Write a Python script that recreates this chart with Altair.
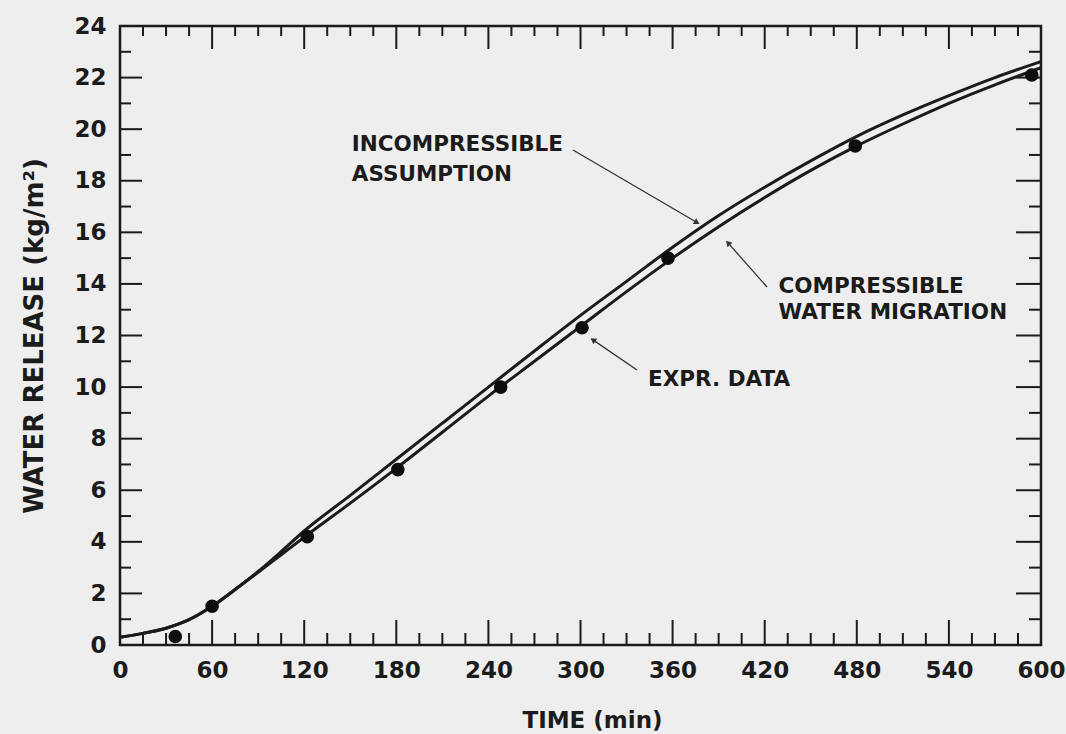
import math
import altair as alt
import pandas as pd

# Model curves: water release vs time
time_model = [0, 15, 30, 45, 60, 75, 90, 105, 120, 150, 180, 210, 240, 270,
              300, 330, 360, 390, 420, 450, 480, 510, 540, 570, 600]
incompressible = [0.30, 0.45, 0.65, 0.98, 1.50, 2.15, 2.85, 3.62, 4.42, 5.80,
                  7.20, 8.60, 10.00, 11.40, 12.78, 14.10, 15.42, 16.65, 17.75,
                  18.77, 19.72, 20.55, 21.30, 22.00, 22.62]
compressible = [0.30, 0.45, 0.65, 0.98, 1.50, 2.15, 2.82, 3.50, 4.18, 5.50,
                6.85, 8.25, 9.65, 11.00, 12.35, 13.70, 15.00, 16.22, 17.35,
                18.40, 19.35, 20.20, 21.00, 21.72, 22.38]

# Experimental data
expr_time = [36, 60, 122, 181, 248, 301, 357, 479, 594]
expr_release = [0.33, 1.50, 4.20, 6.80, 10.00, 12.30, 15.00, 19.35, 22.10]

# Axis ticks
x_labels = list(range(0, 601, 60))
x_minor = [t for t in range(0, 601, 15) if t % 60 != 0]
y_labels = list(range(0, 25, 2))
y_minor = list(range(1, 24, 2))

# Annotations (time, release, text)
note_t = [151, 151, 429, 429, 344]
note_v = [19.39, 18.22, 13.88, 12.87, 10.27]
note_text = ["INCOMPRESSIBLE", "ASSUMPTION", "COMPRESSIBLE",
             "WATER MIGRATION", "EXPR. DATA"]

# Leader arrows: tail (t1, v1) -> head (t2, v2)
arrow_t1 = [295.1, 421.5, 336.8]
arrow_v1 = [19.19, 13.88, 10.66]
arrow_t2 = [375.9, 396.1, 308.1]
arrow_v2 = [16.38, 15.59, 11.83]

W, H = 921, 619
INK = "#1b1b1b"
FONT = "DejaVu Sans"

xs = alt.Scale(domain=[0, 600], nice=False, zero=False)
ys = alt.Scale(domain=[0, 24], nice=False, zero=False)

curves = pd.DataFrame({
    "time": time_model * 2,
    "release": incompressible + compressible,
    "model": ["incompressible"] * len(time_model) + ["compressible"] * len(time_model),
})
expr = pd.DataFrame({"time": expr_time, "release": expr_release})
notes = pd.DataFrame({"time": note_t, "release": note_v, "label": note_text})

sx, sy = W / 600.0, H / 24.0
angles = []
for a, b, c, d in zip(arrow_t1, arrow_v1, arrow_t2, arrow_v2):
    dx = (c - a) * sx
    dy = -(d - b) * sy
    angles.append(math.degrees(math.atan2(dx, -dy)) % 360)
arrows = pd.DataFrame({"t1": arrow_t1, "v1": arrow_v1, "t2": arrow_t2,
                       "v2": arrow_v2, "ang": angles})

x_axis = alt.Axis(values=x_labels, ticks=False, domain=False, grid=False,
                  labelFlush=False,
                  labelFont=FONT, labelFontSize=23, labelFontWeight="bold",
                  labelColor=INK, labelPadding=14, title="TIME (min)",
                  titleFont=FONT, titleFontSize=23, titleFontWeight="bold",
                  titleColor=INK, titleX=472, titleY=75, titleBaseline="middle")
y_axis = alt.Axis(values=y_labels, ticks=False, domain=False, grid=False,
                  labelFlush=False,
                  labelFont=FONT, labelFontSize=23, labelFontWeight="bold",
                  labelColor=INK, labelPadding=14,
                  title="WATER RELEASE (kg/m²)", titleFont=FONT,
                  titleFontSize=26, titleFontWeight="bold", titleColor=INK,
                  titleX=-86, titleY=H / 2, titleBaseline="middle")

lines = alt.Chart(curves).mark_line(
    interpolate="monotone", strokeWidth=3, color=INK
).encode(
    x=alt.X("time:Q", scale=xs, axis=x_axis),
    y=alt.Y("release:Q", scale=ys, axis=y_axis),
    detail="model:N",
)

points = alt.Chart(expr).mark_circle(size=185, color="#0d0d0d", opacity=1).encode(
    x=alt.X("time:Q", scale=xs), y=alt.Y("release:Q", scale=ys)
)


def x_ticks(vals, at_y, length, down):
    df = pd.DataFrame({"time": vals})
    y2 = at_y - length if down else at_y + length
    return alt.Chart(df).mark_rule(color=INK, strokeWidth=2).encode(
        x=alt.X("time:Q", scale=xs), y=alt.value(at_y), y2=alt.value(y2)
    )


def y_ticks(vals, at_x, length, right):
    df = pd.DataFrame({"release": vals})
    x2 = at_x + length if right else at_x - length
    return alt.Chart(df).mark_rule(color=INK, strokeWidth=2).encode(
        y=alt.Y("release:Q", scale=ys), x=alt.value(at_x), x2=alt.value(x2)
    )


ticks = [
    x_ticks(x_labels, H, 25, True), x_ticks(x_minor, H, 12, True),
    x_ticks(x_labels, 0, 23, False), x_ticks(x_minor, 0, 10, False),
    y_ticks(y_labels, 0, 22, True), y_ticks(y_minor, 0, 11, True),
    y_ticks(y_labels, W, 25, False), y_ticks(y_minor, W, 12, False),
]

labels = alt.Chart(notes).mark_text(
    align="left", baseline="middle", font=FONT, fontSize=21.5,
    fontWeight="bold", color=INK
).encode(x=alt.X("time:Q", scale=xs), y=alt.Y("release:Q", scale=ys),
         text="label:N")

leaders = alt.Chart(arrows).mark_rule(color="#333333", strokeWidth=1.3).encode(
    x=alt.X("t1:Q", scale=xs), y=alt.Y("v1:Q", scale=ys),
    x2="t2:Q", y2="v2:Q",
)
heads = alt.Chart(arrows).mark_point(
    shape="triangle-up", filled=True, size=45, color="#333333", opacity=1
).encode(x=alt.X("t2:Q", scale=xs), y=alt.Y("v2:Q", scale=ys),
         angle=alt.Angle("ang:Q", scale=None))

chart = alt.layer(
    *ticks, lines, points, leaders, heads, labels
).properties(
    width=W, height=H, autosize="none",
    padding={"left": 120, "top": 26, "right": 25, "bottom": 89},
    background="#eeeeee",
).configure_view(stroke=INK, strokeWidth=2.5)

chart.save("out.html", embed_options={"renderer": "svg", "actions": False})
